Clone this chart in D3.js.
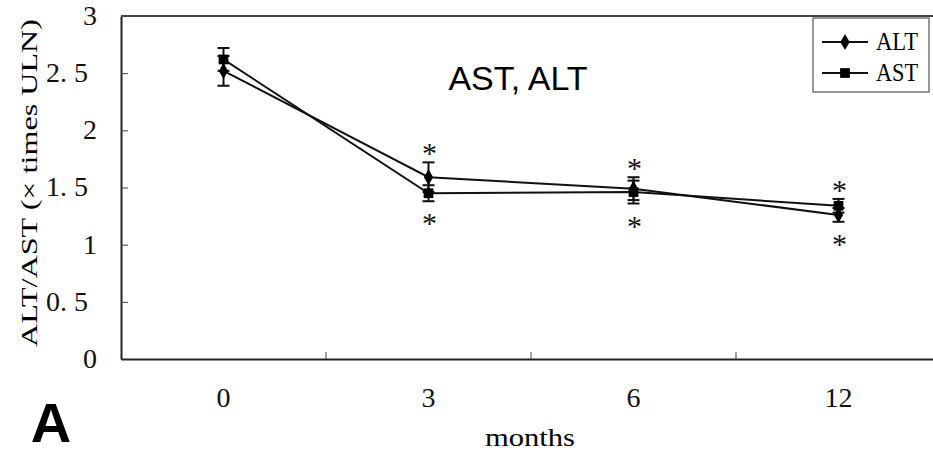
<!DOCTYPE html>
<html><head><meta charset="utf-8">
<script src="https://cdn.jsdelivr.net/npm/d3@7"></script>
<style>body{margin:0;background:#fff}svg{display:block}</style>
</head><body><svg id="c" width="933" height="454"></svg>
<script>
const months = ["0","3","6","12"];
const altValues = [2.52, 1.59, 1.49, 1.26];
const altErrors = [0.13, 0.13, 0.10, 0.06];
const astValues = [2.62, 1.45, 1.46, 1.34];
const astErrors = [0.10, 0.07, 0.10, 0.06];
const sigMarks = [false, true, true, true];
const yTicks = [0, 0.5, 1, 1.5, 2, 2.5, 3];
const yTickLabels = ["0","0. 5","1","1. 5","2","2. 5","3"];

const svg = d3.select("#c");
const L = 121, R = 941, T = 16, B = 359;
const x = d3.scaleBand().domain(months).range([L, R]);
const y = d3.scaleLinear().domain([0, 3]).range([B, T]);
const cx = m => x(m) + x.bandwidth() / 2;
const serif = "'Liberation Serif', 'Times New Roman', serif";

svg.append("line").attr("x1", L).attr("x2", 933).attr("y1", T).attr("y2", T)
  .attr("stroke", "#444").attr("stroke-width", 2);

// y axis
const yAxis = d3.axisLeft(y).tickValues(yTicks).tickSizeInner(-7).tickSizeOuter(0)
  .tickFormat((d, i) => yTickLabels[i]);
const ga = svg.append("g").attr("transform", `translate(${L},0)`).call(yAxis);
ga.select(".domain").attr("stroke", "#222").attr("stroke-width", 2);
ga.selectAll(".tick line").attr("stroke", "#444").attr("stroke-width", 1);
ga.selectAll(".tick text").attr("font-family", serif).attr("font-size", 28).attr("fill", "#111")
  .attr("x", (d) => Number.isInteger(d) ? -24 : -33).attr("dy", "0.3em");

// x axis
const xAxis = d3.axisBottom(x).tickSize(0).tickPadding(28);
const gx = svg.append("g").attr("transform", `translate(0,${B})`).call(xAxis);
gx.select(".domain").attr("stroke", "#222").attr("stroke-width", 2);
gx.selectAll(".tick text").attr("font-family", serif).attr("font-size", 28).attr("fill", "#111");
svg.append("g").selectAll("line").data(months.slice(0, -1)).join("line")
  .attr("x1", d => x(d) + x.bandwidth()).attr("x2", d => x(d) + x.bandwidth())
  .attr("y1", B).attr("y2", B - 7).attr("stroke", "#444").attr("stroke-width", 1);

// axis titles
svg.append("text").attr("x", 530).attr("y", 446).attr("text-anchor", "middle")
  .attr("font-family", serif).attr("font-size", 25).attr("textLength", 90).attr("lengthAdjust", "spacingAndGlyphs")
  .text("months");
svg.append("text").attr("transform", "translate(37,183) rotate(-90)").attr("text-anchor", "middle")
  .attr("font-family", serif).attr("font-size", 24).attr("textLength", 328).attr("lengthAdjust", "spacingAndGlyphs")
  .text("ALT/AST (× times ULN)");

// series
const series = [
  {name: "ALT", vals: altValues, errs: altErrors, shape: d3.symbolDiamond, size: 75},
  {name: "AST", vals: astValues, errs: astErrors, shape: d3.symbolSquare, size: 95}
];
const line = d3.line().x((d, i) => cx(months[i])).y(d => y(d));
series.forEach(s => {
  svg.append("path").attr("d", line(s.vals)).attr("fill", "none").attr("stroke", "#111").attr("stroke-width", 2);
});
series.forEach(s => {
  const g = svg.append("g").attr("stroke", "#111").attr("stroke-width", 2);
  s.vals.forEach((v, i) => {
    const xx = cx(months[i]);
    const y1 = y(v + s.errs[i]), y2 = y(v - s.errs[i]);
    g.append("line").attr("x1", xx).attr("x2", xx).attr("y1", y1).attr("y2", y2);
    g.append("line").attr("x1", xx - 6).attr("x2", xx + 6).attr("y1", y1).attr("y2", y1);
    g.append("line").attr("x1", xx - 6).attr("x2", xx + 6).attr("y1", y2).attr("y2", y2);
  });
});
series.forEach(s => {
  svg.append("g").selectAll("path").data(s.vals).join("path")
    .attr("transform", (d, i) => `translate(${cx(months[i])},${y(d)})`)
    .attr("d", d3.symbol().type(s.shape).size(s.size)).attr("fill", "#000");
});

// significance asterisks
months.forEach((m, i) => {
  if (!sigMarks[i]) return;
  const top = Math.min(y(altValues[i] + altErrors[i]), y(astValues[i] + astErrors[i]));
  const bot = Math.max(y(altValues[i] - altErrors[i]), y(astValues[i] - astErrors[i]));
  [top - 15, bot + 16].forEach(cy => {
    svg.append("text").attr("x", cx(m) + 1).attr("y", cy + 16).attr("text-anchor", "middle")
      .attr("font-family", serif).attr("font-size", 30).attr("fill", "#111").text("*");
  });
});

// annotation
svg.append("text").attr("x", 518).attr("y", 90).attr("text-anchor", "middle")
  .attr("font-family", "'Liberation Sans', Arial, sans-serif").attr("font-size", 34).attr("fill", "#000")
  .text("AST, ALT");
svg.append("text").attr("x", 51).attr("y", 442).attr("text-anchor", "middle")
  .attr("font-family", "'Liberation Sans', Arial, sans-serif").attr("font-weight", "bold").attr("font-size", 56)
  .text("A");

// legend
const lg = svg.append("g");
lg.append("rect").attr("x", 813).attr("y", 18).attr("width", 116).attr("height", 74)
  .attr("fill", "#fff").attr("stroke", "#777").attr("stroke-width", 1.5);
series.forEach((s, i) => {
  const ly = 42 + i * 31;
  lg.append("line").attr("x1", 822).attr("x2", 868).attr("y1", ly).attr("y2", ly).attr("stroke", "#111").attr("stroke-width", 2);
  lg.append("path").attr("transform", `translate(845,${ly})`).attr("d", d3.symbol().type(s.shape).size(s.size)).attr("fill", "#000");
  lg.append("text").attr("x", 876).attr("y", ly + 8).attr("font-family", serif).attr("font-size", 25)
    .attr("textLength", 42).attr("lengthAdjust", "spacingAndGlyphs").text(s.name);
});
</script></body></html>
